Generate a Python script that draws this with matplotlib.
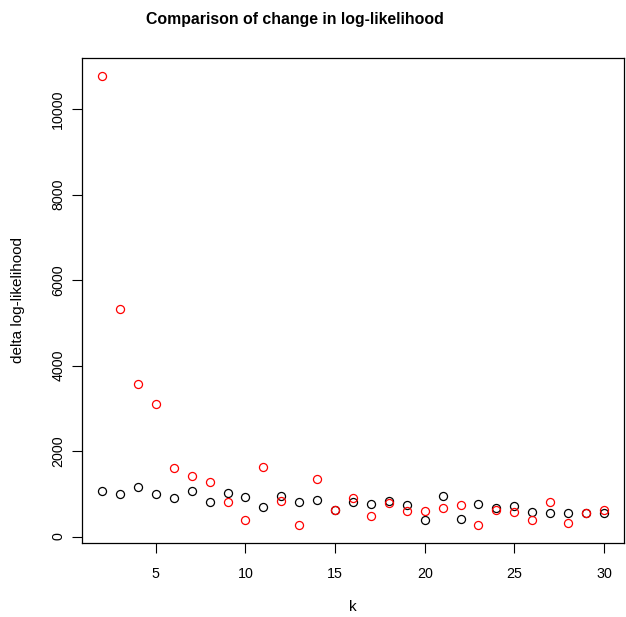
import numpy as np
import matplotlib
matplotlib.use("Agg")
import matplotlib.pyplot as plt

plt.rcParams['font.family'] = ['Liberation Sans', 'DejaVu Sans']

# number of clusters k and the change in log-likelihood for two runs
k = np.arange(2, 31)
delta_black = [1055, 1002, 1158, 1002, 900, 1055, 807, 1009, 924, 685,
               938, 798, 861, 610, 798, 751, 831, 744, 377, 955,
               410, 751, 674, 704, 580, 541, 557, 541, 541]
delta_red = [10776, 5331, 3560, 3100, 1610, 1407, 1275, 807, 386, 1626,
             821, 262, 1336, 615, 892, 470, 775, 587, 604, 674,
             744, 276, 627, 573, 386, 807, 307, 541, 620]

fig = plt.figure(figsize=(6.26, 6.17), dpi=100)
ax = fig.add_axes([82 / 626, 1 - 543.3 / 617, 542 / 626, 485.3 / 617])

ax.plot(k, delta_black, 'o', mfc='none', mec='black', ms=5.8, mew=0.9)
ax.plot(k, delta_red, 'o', mfc='none', mec='red', ms=5.8, mew=0.9)

# R-style 4% padding around the data range
xr = k.max() - k.min()
ax.set_xlim(k.min() - 0.04 * xr, k.max() + 0.04 * xr)
allv = delta_black + delta_red
yr = max(allv) - min(allv)
ax.set_ylim(min(allv) - 0.04 * yr, max(allv) + 0.04 * yr)

ax.set_xticks([5, 10, 15, 20, 25, 30])
ax.set_yticks([0, 2000, 4000, 6000, 8000, 10000])
ax.tick_params(direction='out', length=7, width=0.8, labelsize=10.3)
ax.tick_params(axis='x', pad=10)
ax.tick_params(axis='y', pad=5)
for lab in ax.get_yticklabels():
    lab.set_rotation(90)
    lab.set_va('center')
for s in ax.spines.values():
    s.set_linewidth(0.9)

fig.text(353 / 626, 1 - 607 / 617, 'k', ha='center', va='center', fontsize=11)
fig.text(18 / 626, 1 - 300 / 617, 'delta log-likelihood', ha='center', va='center',
         rotation=90, fontsize=11)
fig.text(294.6 / 626, 1 - 19.5 / 617, 'Comparison of change in log-likelihood',
         ha='center', va='center', fontsize=11.4, fontweight='bold')

fig.savefig('out.png', dpi=100)
